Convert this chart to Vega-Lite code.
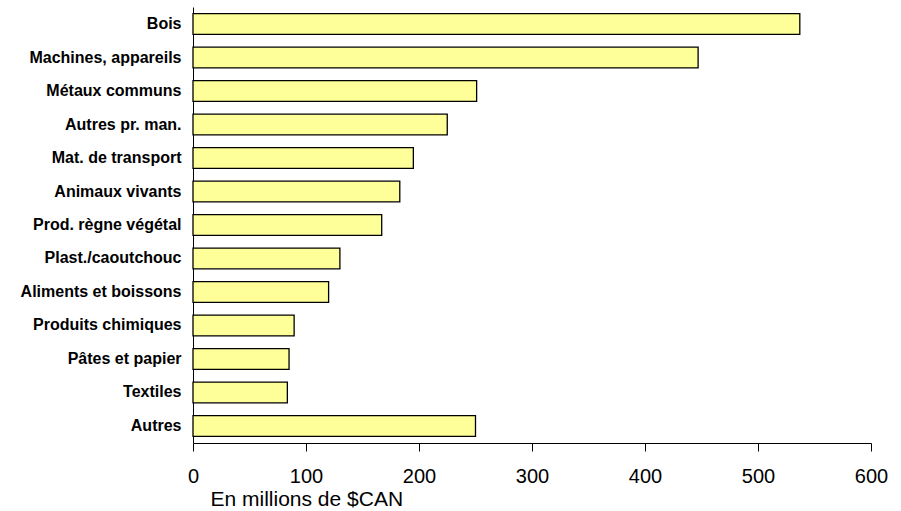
{
  "$schema": "https://vega.github.io/schema/vega-lite/v6.json",
  "autosize": "none",
  "width": 678,
  "height": 436,
  "padding": {"left": 193, "top": 7, "right": 30, "bottom": 68},
  "background": "white",
  "data": {
    "values": [
      {"categorie": "Bois", "valeur": 537},
      {"categorie": "Machines, appareils", "valeur": 447},
      {"categorie": "Métaux communs", "valeur": 251},
      {"categorie": "Autres pr. man.", "valeur": 225},
      {"categorie": "Mat. de transport", "valeur": 195},
      {"categorie": "Animaux vivants", "valeur": 183},
      {"categorie": "Prod. règne végétal", "valeur": 167},
      {"categorie": "Plast./caoutchouc", "valeur": 130},
      {"categorie": "Aliments et boissons", "valeur": 120},
      {"categorie": "Produits chimiques", "valeur": 89.5},
      {"categorie": "Pâtes et papier", "valeur": 85},
      {"categorie": "Textiles", "valeur": 83.5},
      {"categorie": "Autres", "valeur": 250}
    ]
  },
  "mark": {"type": "bar", "color": "#FFFF99", "stroke": "#000000", "strokeWidth": 1.3},
  "encoding": {
    "y": {
      "field": "categorie",
      "type": "nominal",
      "sort": null,
      "scale": {"paddingInner": 0.38, "paddingOuter": 0.2},
      "axis": {
        "title": null,
        "ticks": false,
        "domainColor": "#000000",
        "domainWidth": 1,
        "labelFont": "Liberation Sans",
        "labelFontWeight": "bold",
        "labelFontSize": 16,
        "labelColor": "#000000",
        "labelPadding": 12,
        "labelLimit": 300
      }
    },
    "x": {
      "field": "valeur",
      "type": "quantitative",
      "scale": {"domain": [0, 600], "nice": false},
      "axis": {
        "title": "En millions de $CAN",
        "values": [0, 100, 200, 300, 400, 500, 600],
        "grid": false,
        "labelFlush": false,
        "domainColor": "#000000",
        "tickColor": "#000000",
        "tickSize": 8,
        "labelFont": "Liberation Sans",
        "labelFontSize": 20,
        "labelColor": "#000000",
        "labelPadding": 15,
        "titleFont": "Liberation Sans",
        "titleFontSize": 21,
        "titleFontWeight": "normal",
        "titleColor": "#000000",
        "titleAlign": "left",
        "titleAnchor": null,
        "titleX": 17,
        "titleY": 62,
        "titleBaseline": "alphabetic"
      }
    }
  },
  "config": {"view": {"stroke": null}}
}
